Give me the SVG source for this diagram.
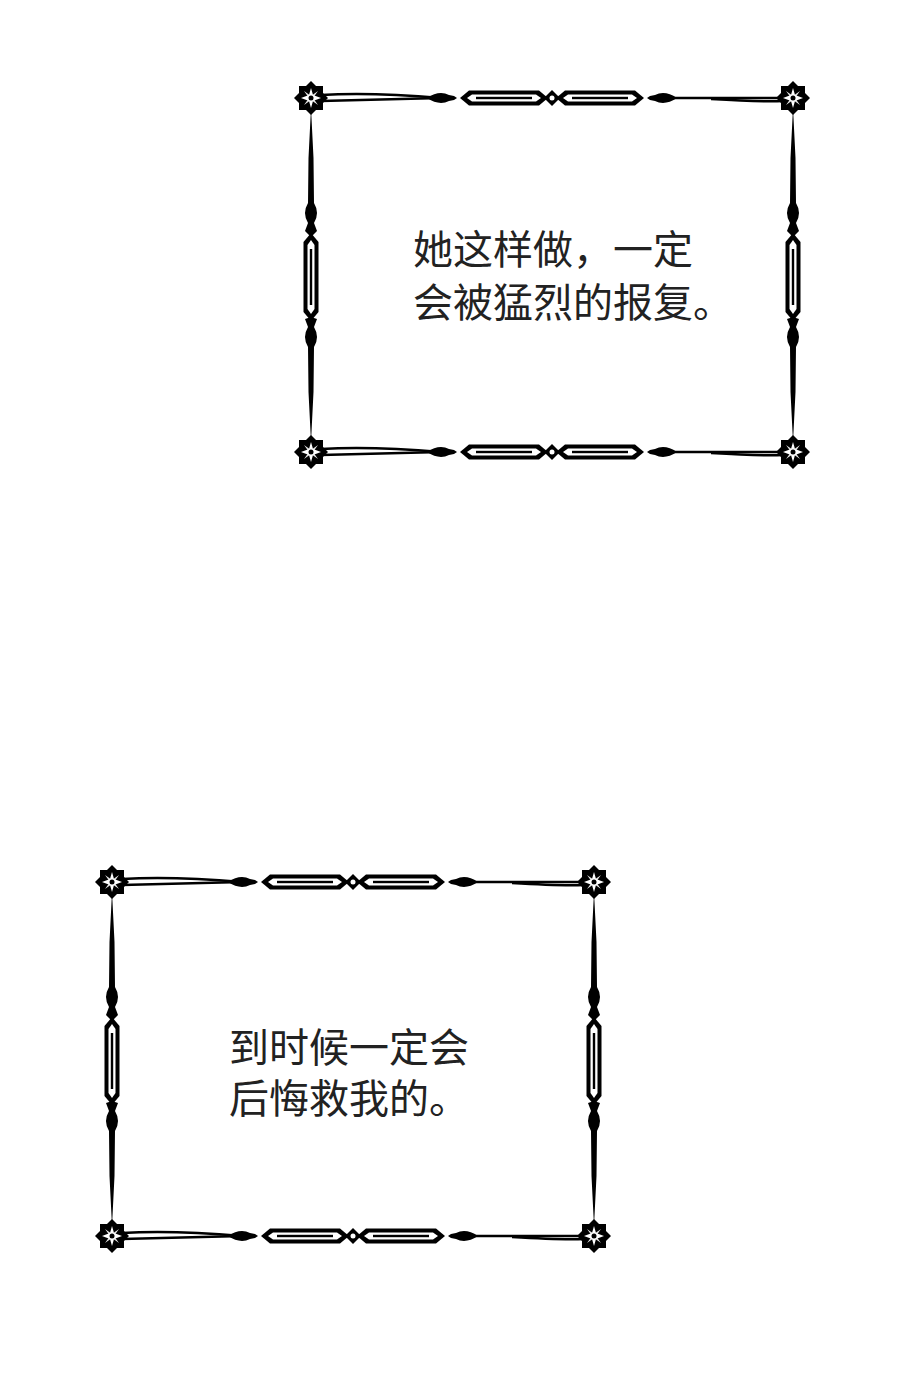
<svg xmlns="http://www.w3.org/2000/svg" width="900" height="1397" viewBox="0 0 900 1397">
<style>
.t{font-family:"Noto Sans CJK SC","Noto Sans",sans-serif;font-size:40px;fill:#222}
.k{fill:#000}.w{fill:#fff}.ln{stroke:#000;stroke-width:2.5;fill:none}
</style>
<defs>
<g id="corner">
<rect x="-12" y="-12" width="24" height="24" class="k"/>
<rect x="-12" y="-12" width="24" height="24" class="k" transform="rotate(45)"/>
<path class="w" d="M0,-10 L2,-3 L10,0 L2,3 L0,10 L-2,3 L-10,0 L-2,-3Z"/>
<path class="w" d="M7,-7 L2,0 L7,7 L0,2 L-7,7 L-2,0 L-7,-7 L0,-2Z" opacity="0.9"/>
<circle r="2.5" class="k"/>
</g>
<g id="hbar">
<path class="k" d="M0,0 L9,-7.5 L79,-7.5 L88,0 L79,7.5 L9,7.5Z"/>
<path class="w" d="M7,0 L12,-3.5 L76,-3.5 L81,0 L76,3.5 L12,3.5Z"/>
<rect x="16" y="-1.2" width="56" height="2.4" class="k"/>
</g>
<g id="hedge">
<path class="ln" d="M10,-3 Q60,-6 130,0"/>
<path class="ln" d="M10,3 Q60,2 130,0"/>
<path class="k" d="M116,0 Q128,-8 138,-3 L143,-2 L146,0 L143,2 L138,3 Q128,8 116,0Z"/>
<use href="#hbar" x="149"/>
<path class="k" d="M241,-8 L249,0 L241,8 L233,0Z"/>
<circle cx="241" r="2.5" class="w"/>
<use href="#hbar" x="245"/>
<path class="k" d="M366,0 Q354,-8 344,-3 L339,-2 L336,0 L339,2 L344,3 Q354,8 366,0Z"/>
<path class="ln" d="M356,0 L472,0"/>
<path class="ln" d="M400,1 Q450,4 472,3"/>
</g>
<g id="vedge">
<path class="k" d="M0,10 L2.5,60 L3,105 Q9,115 3,125 L6,133 L0,139 L-6,133 L-3,125 Q-9,115 -3,105 L-2.5,60Z"/>
<g transform="translate(0,179) rotate(90) translate(-44,0)"><use href="#hbar"/></g>
<path class="k" d="M0,344 L2.5,294 L3,249 Q9,239 3,229 L6,221 L0,219 L-6,221 L-3,229 Q-9,239 -3,249 L-2.5,294Z"/>
</g>
<g id="frame">
<use href="#hedge"/>
<use href="#hedge" y="354"/>
<use href="#vedge"/>
<use href="#vedge" x="482"/>
<use href="#corner"/>
<use href="#corner" x="482"/>
<use href="#corner" y="354"/>
<use href="#corner" x="482" y="354"/>
</g>
</defs>
<rect width="900" height="1397" fill="#fff"/>
<g id="frame1"><use href="#frame" x="311" y="98"/>
<text class="t" x="413" y="264">她这样做，一定</text>
<text class="t" x="413" y="317">会被猛烈的报复。</text></g>
<g id="frame2"><use href="#frame" x="112" y="882"/>
<text class="t" x="229" y="1062">到时候一定会</text>
<text class="t" x="229" y="1113">后悔救我的。</text></g>
</svg>
